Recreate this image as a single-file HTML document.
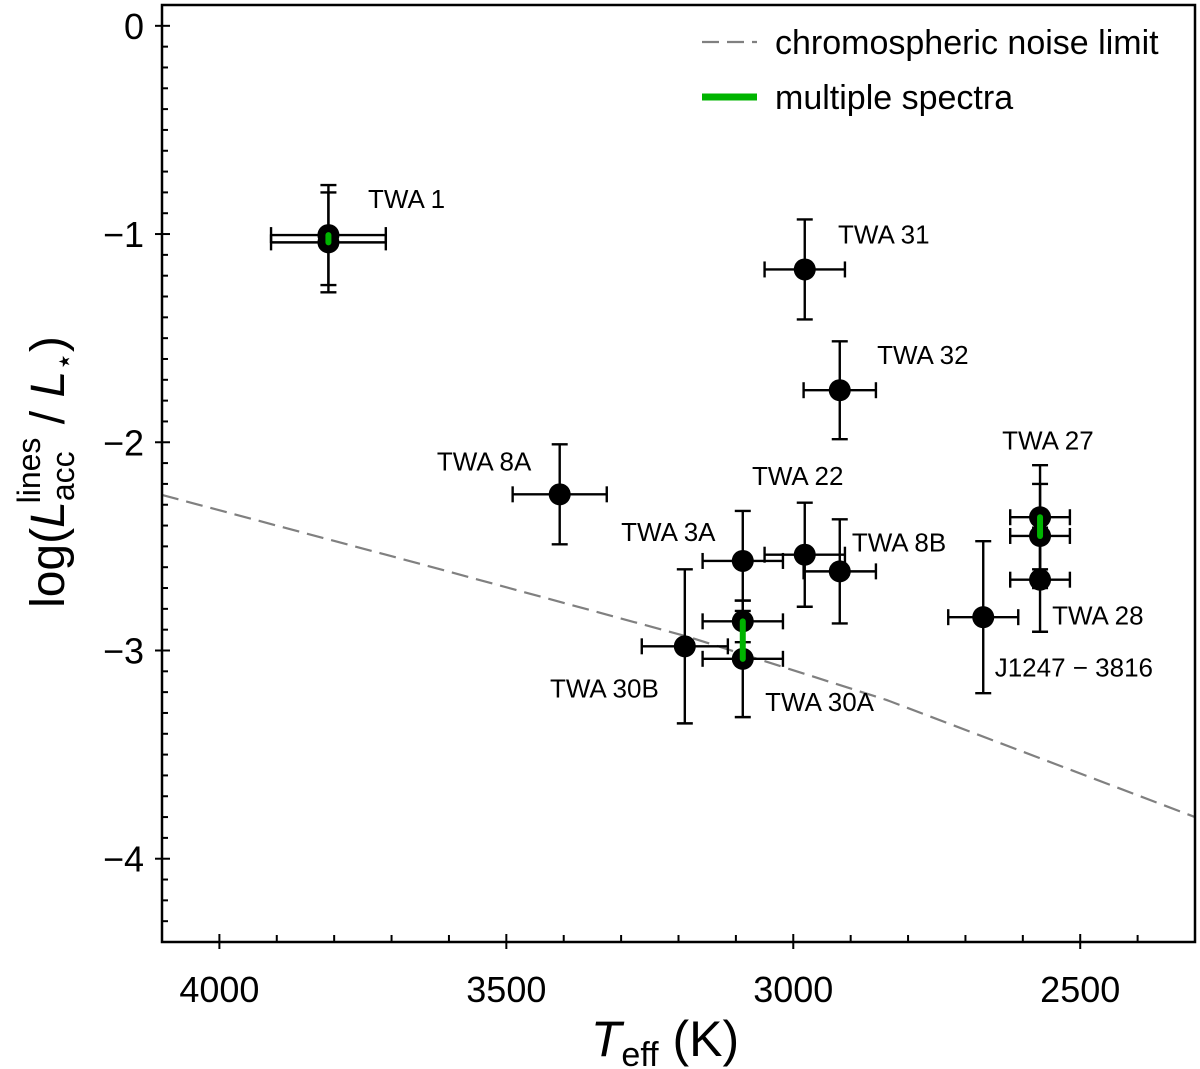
<!DOCTYPE html>
<html><head><meta charset="utf-8"><style>
body{margin:0;background:#fff}
svg{display:block;font-family:"Liberation Sans","DejaVu Sans",sans-serif}
</style></head><body>
<svg id="chart" width="1200" height="1069" viewBox="0 0 1200 1069"></svg>
<script>
const names=["TWA 1","TWA 1","TWA 31","TWA 32","TWA 8A","TWA 22","TWA 3A","TWA 8B","TWA 30A","TWA 30A","TWA 30B","J1247 − 3816","TWA 27","TWA 27","TWA 28"];
const teff=[3810,3810,2980,2919,3407,2980,3088,2919,3088,3088,3189,2669,2570,2570,2570];
const logL=[-1.005,-1.04,-1.17,-1.75,-2.25,-2.54,-2.57,-2.62,-2.86,-3.04,-2.98,-2.84,-2.36,-2.45,-2.66];
const terr=[100,100,70,63,82,70,70,63,70,70,75,61,52,52,52];
const lerr=[0.24,0.24,0.24,0.235,0.24,0.25,0.24,0.25,0.1,0.28,0.37,0.365,0.25,0.25,0.25];
const multiGroups=[[0,1],[8,9],[12,13]];
const limitT=[4100,3642,3182,2837,2300];
const limitL=[-2.253,-2.59,-2.935,-3.238,-3.80];
const xTicks=[4000,3500,3000,2500];
const yTicks=[0,-1,-2,-3,-4];
const labels=["TWA 1","TWA 31","TWA 32","TWA 8A","TWA 22","TWA 3A","TWA 8B","TWA 27","TWA 28","J1247 − 3816","TWA 30B","TWA 30A"];
const labelT=[3741,2922,2854,3621,3072,3300,2898,2636,2549,2649,3424,3049];
const labelL=[-0.875,-1.045,-1.625,-2.135,-2.205,-2.475,-2.525,-2.035,-2.875,-3.125,-3.225,-3.29];

const svg=document.getElementById('chart');
const NS='http://www.w3.org/2000/svg';
const X0=162,X1=1195,Y0=5,Y1=942;
const xs=t=>X0+(4100-t)*(X1-X0)/1800;
const ys=v=>Y0+(0.1-v)*(Y1-Y0)/4.5;
function el(tag,attrs,parent){const e=document.createElementNS(NS,tag);for(const k in attrs)e.setAttribute(k,attrs[k]);(parent||svg).appendChild(e);return e;}

for(let t=2400;t<=4100;t+=100){
  const major=t%500===0;const x=xs(t);
  const tk=el('line',{x1:x,x2:x,y1:major?Y1-8:Y1-7,y2:major?Y1+7:Y1,stroke:'#000','stroke-width':2});
  
  
}
xTicks.forEach(t=>{
  const tx=el('text',{x:xs(t),y:Y1+60,'font-size':36,'text-anchor':'middle',fill:'#000'});
  tx.textContent=t;
  
  
});
for(let i=-43;i<=0;i++){
  const v=i/10;const major=i%10===0;const y=ys(v);
  const tk=el('line',{x1:major?X0-7:X0,x2:X0+(major?8:6),y1:y,y2:y,stroke:'#000','stroke-width':2});
  
  
}
yTicks.forEach(v=>{
  const tx=el('text',{x:X0-18,y:ys(v)+13,'font-size':36,'text-anchor':'end',fill:'#000'});
  tx.textContent=v===0?'0':'−'+Math.abs(v);
  
  
});

const lp=limitT.map((t,i)=>xs(t)+','+ys(limitL[i])).join(' ');
const ll=el('polyline',{points:lp,fill:'none',stroke:'#808080','stroke-width':2.2,'stroke-dasharray':'17,8'});



teff.forEach((t,i)=>{
  const g=el('g',{stroke:'#000','stroke-width':2.4});
  
  
  const x=xs(t),y=ys(logL[i]);
  const xa=xs(t-terr[i]),xb=xs(t+terr[i]),ya=ys(logL[i]+lerr[i]),yb=ys(logL[i]-lerr[i]);
  el('line',{x1:xa,x2:xb,y1:y,y2:y},g);
  el('line',{x1:xa,x2:xa,y1:y-8,y2:y+8},g);
  el('line',{x1:xb,x2:xb,y1:y-8,y2:y+8},g);
  el('line',{x1:x,x2:x,y1:ya,y2:yb},g);
  el('line',{x1:x-8,x2:x+8,y1:ya,y2:ya},g);
  el('line',{x1:x-8,x2:x+8,y1:yb,y2:yb},g);
  el('circle',{cx:x,cy:y,r:11,fill:'#000',stroke:'none'},g);
});
multiGroups.forEach(gr=>{
  const l=el('line',{x1:xs(teff[gr[0]]),x2:xs(teff[gr[1]]),y1:ys(logL[gr[0]]),y2:ys(logL[gr[1]]),stroke:'#00b400','stroke-width':6,'stroke-linecap':'round'});
  
  
});
labels.forEach((s,i)=>{
  const tx=el('text',{x:xs(labelT[i]),y:ys(labelL[i]),'font-size':26,fill:'#000'});
  tx.textContent=s;
  
  
});

const fr=el('rect',{x:X0,y:Y0,width:X1-X0,height:Y1-Y0,fill:'none',stroke:'#000','stroke-width':2.5});



const lg=el('g',{});


el('line',{x1:702,x2:757,y1:42,y2:42,stroke:'#808080','stroke-width':2.2,'stroke-dasharray':'17,8'},lg);
const t1=el('text',{x:775,y:54,'font-size':34},lg);t1.textContent='chromospheric noise limit';
el('line',{x1:702,x2:757,y1:97,y2:97,stroke:'#00b400','stroke-width':7},lg);
const t2=el('text',{x:775,y:109,'font-size':34},lg);t2.textContent='multiple spectra';

const xt=el('text',{x:665,y:1056,'font-size':50,'text-anchor':'middle'});
xt.innerHTML='<tspan font-style="italic">T</tspan><tspan font-size="34" dy="10">eff</tspan><tspan dy="-10"> (K)</tspan>';


const yt=el('text',{x:0,y:0,'font-size':48,'text-anchor':'middle',transform:'translate(64,472) rotate(-90)'});
yt.innerHTML='log(<tspan font-style="italic">L</tspan><tspan font-size="32" dy="10">acc</tspan><tspan font-size="32" dx="-52" dy="-34">lines</tspan><tspan dy="24"> / </tspan><tspan font-style="italic">L</tspan><tspan font-size="30" dy="10">⋆</tspan><tspan dy="-10">)</tspan>';


</script>
</body></html>
